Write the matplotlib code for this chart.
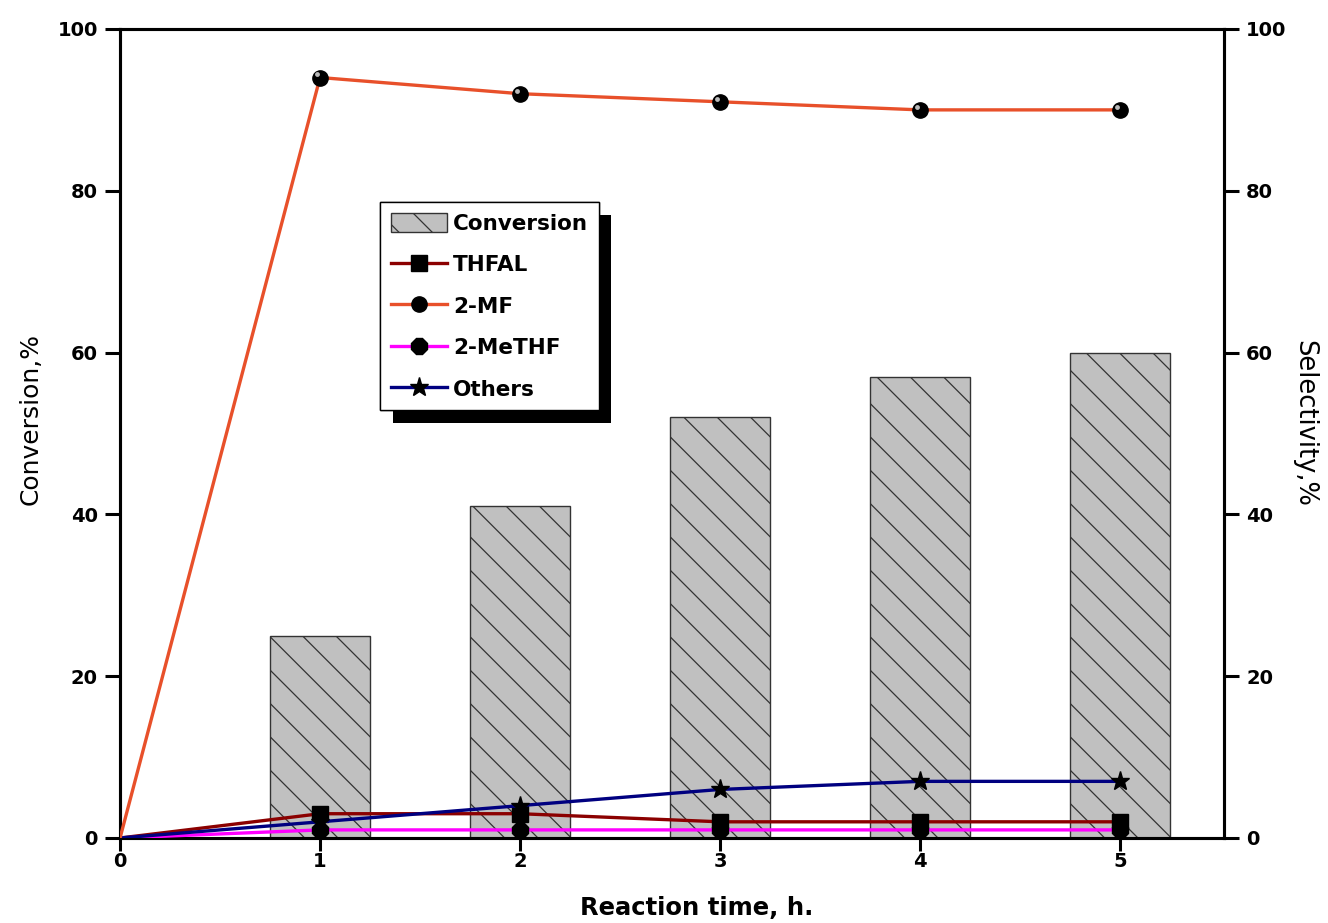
import matplotlib.pyplot as plt
import matplotlib.patheffects as pe
from matplotlib.transforms import offset_copy
import numpy as np

plt.rcParams['font.family'] = ['DejaVu Sans']
plt.rcParams['hatch.linewidth'] = 0.9
plt.rcParams['hatch.color'] = '#222222'

# reaction time (h) and conversion (%)
hours = [1, 2, 3, 4, 5]
conversion = [25, 41, 52, 57, 60]

# selectivity (%), starting from the origin at t = 0
sel_time = [0, 1, 2, 3, 4, 5]
thfal = [0, 3, 3, 2, 2, 2]
mf = [0, 94, 92, 91, 90, 90]
methf = [0, 1, 1, 1, 1, 1]
others = [0, 2, 4, 6, 7, 7]

fig = plt.figure(figsize=(13.28, 9.23), dpi=100)
ax = fig.add_axes([0.0904, 0.0921, 0.8313, 0.8765])
ax2 = ax.twinx()

bars = ax.bar(hours, conversion, width=0.5, color='#c0c0c0', edgecolor='#333333',
              linewidth=1.0, hatch='\\', label='Conversion', zorder=1)

lw = 2.4
l_thfal, = ax2.plot(sel_time, thfal, color='#8b0000', lw=lw, marker='s', ms=11,
                    mfc='black', mec='black', markevery=range(1, 6), label='THFAL', zorder=3)
l_methf, = ax2.plot(sel_time, methf, color='#ff00ff', lw=lw, marker='8', ms=12,
                    mfc='black', mec='black', markevery=range(1, 6), label='2-MeTHF', zorder=3)
l_oth, = ax2.plot(sel_time, others, color='#000080', lw=lw, marker='*', ms=14,
                  mfc='black', mec='black', markevery=range(1, 6), label='Others', zorder=4)
l_mf, = ax2.plot(sel_time, mf, color='#e8502a', lw=lw, marker='o', ms=11,
                 mfc='black', mec='black', markevery=range(1, 6), label='2-MF', zorder=4)
# small highlight on the 2-MF spheres
glint = offset_copy(ax2.transData, fig=fig, x=-2.2, y=2.2, units='points')
ax2.plot(sel_time[1:], mf[1:], ls='none', marker='o', ms=3.5, mfc='#bbbbbb',
         mec='none', transform=glint, zorder=5)

for a in (ax, ax2):
    a.set_xlim(0, 5.52)
    a.set_ylim(0, 100)
    a.set_yticks(np.arange(0, 101, 20))
    for s in a.spines.values():
        s.set_linewidth(2.2)
    a.tick_params(direction='out', length=11, width=2.2, labelsize=14, pad=5)
    for t in a.get_yticklabels() + a.get_xticklabels():
        t.set_fontweight('bold')
ax.set_xticks(range(0, 6))
ax.set_xticklabels([str(i) for i in range(0, 6)], fontweight='bold')
ax.tick_params(axis='x', length=9, pad=1)

ax.set_xlabel('Reaction time, h.', fontsize=17.5, fontweight='bold')
ax.xaxis.set_label_coords(0.522, -0.072)
ax.set_ylabel('Conversion,%', fontsize=18, va='center')
ax.yaxis.set_label_coords(-0.081, 0.518)
ax2.set_ylabel('Selectivity,%', fontsize=18.5, rotation=270, va='center')
ax2.yaxis.set_label_coords(1.073, 0.513)

leg = ax2.legend([bars, l_thfal, l_mf, l_methf, l_oth],
                 ['Conversion', 'THFAL', '2-MF', '2-MeTHF', 'Others'],
                 loc='upper left', bbox_to_anchor=(0.2355, 0.786), borderaxespad=0,
                 fancybox=False, framealpha=1, edgecolor='black', handlelength=2.6,
                 handleheight=1.0, handletextpad=0.3, labelspacing=0.95, borderpad=0.5,
                 prop={'size': 15.5, 'weight': 'bold'})
leg.get_frame().set_linewidth(1.0)
leg.get_frame().set_path_effects([
    pe.withSimplePatchShadow(offset=(9, -9), shadow_rgbFace='black', alpha=1.0),
    pe.Normal()])

fig.savefig('out.png', dpi=100)
